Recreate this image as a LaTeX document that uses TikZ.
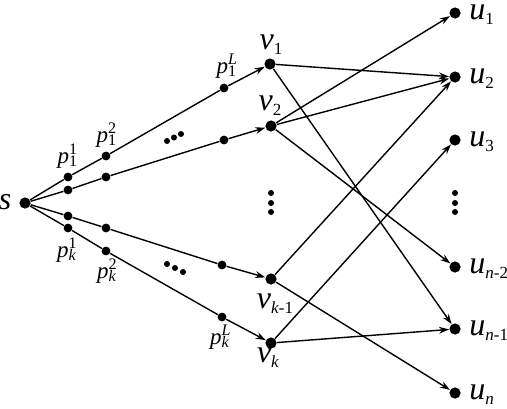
\documentclass[tikz,border=0pt]{standalone}
\usepackage{fontspec}
\setmainfont{Liberation Serif}
\newfontfamily\lblfont{Liberation Serif}
\usetikzlibrary{arrows.meta}
\tikzset{
  bigdot/.style={circle, fill, inner sep=0pt, minimum size=5.6pt},
  pdot/.style={circle, fill, inner sep=0pt, minimum size=4.4pt},
  tinydot/.style={circle, fill, inner sep=0pt, minimum size=3pt},
  edge/.style={line width=0.7pt},
  arc/.style={edge, -{Stealth[length=5pt, width=3.4pt]}},
  biglab/.style={font=\lblfont\fontsize{16}{18}\selectfont, inner sep=0pt},
  plab/.style={font=\lblfont\fontsize{11.5}{13}\selectfont, inner sep=0pt}
}
\newcommand{\nlab}[2]{\textit{#1}\raisebox{-2.6pt}{\fontsize{8.5}{9}\selectfont #2}}
\newcommand{\plab}[2]{\textit{p}\rlap{\textsuperscript{#1}}\textsubscript{#2}}
\begin{document}
\begin{tikzpicture}[x=0.5pt, y=-0.5pt]
  \useasboundingbox (0,0) rectangle (507,408);
  % source
  \node[bigdot] (s) at (25,203) {};
  \node[biglab] (slab) at (5,202) {\textit{s}};
  % middle layer
  \node[bigdot] (v1) at (270,64) {};
  \node[bigdot] (v2) at (271,126) {};
  \node[bigdot] (vk1) at (271,279) {};
  \node[bigdot] (vk) at (271,343) {};
  \node[biglab] (v1lab) at (271,45) {\nlab{v}{1}};
  \node[biglab] (v2lab) at (270,106) {\nlab{v}{2}};
  \node[biglab] (vk1lab) at (275,304) {\nlab{v}{\textit{k}-1}};
  \node[biglab] (vklab) at (268,358) {\nlab{v}{\textit{k}}};
  % path points
  \node[pdot] (p1-1) at (68,177) {};
  \node[pdot] (p1-2) at (106,156) {};
  \node[pdot] (p1-L) at (224,88) {};
  \node[pdot] (p2-1) at (68,190) {};
  \node[pdot] (p2-2) at (106,177) {};
  \node[pdot] (p2-L) at (224,140) {};
  \node[pdot] (pk1-1) at (68,216) {};
  \node[pdot] (pk1-2) at (106,228) {};
  \node[pdot] (pk1-L) at (222,265) {};
  \node[pdot] (pk-1) at (68,228) {};
  \node[pdot] (pk-2) at (106,251) {};
  \node[pdot] (pk-L) at (222,317) {};
  \node[plab] (l1-1) at (68,156) {\plab{1}{1}};
  \node[plab] (l1-2) at (107,135) {\plab{2}{1}};
  \node[plab] (l1-L) at (227,66) {\plab{\textit{L}}{1}};
  \node[plab] (lk-1) at (67,250) {\plab{1}{\textit{k}}};
  \node[plab] (lk-2) at (107,271) {\plab{2}{\textit{k}}};
  \node[plab] (lk-L) at (220,337) {\plab{\textit{L}}{\textit{k}}};
  % sinks
  \node[bigdot] (u1) at (455,13) {};
  \node[bigdot] (u2) at (455,77) {};
  \node[bigdot] (u3) at (455,140) {};
  \node[bigdot] (un2) at (455,267) {};
  \node[bigdot] (un1) at (455,329) {};
  \node[bigdot] (un) at (455,393) {};
  \foreach \u/\t in {u1/1, u2/2, u3/3, un2/\textit{n}-2, un1/\textit{n}-1, un/\textit{n}}
    \node[biglab, anchor=base west] (\u lab) at ([xshift=7pt, yshift=-3.2pt]\u.center) {\nlab{u}{\t}};
  % paths from s
  \draw[edge] (s) -- (p1-1) -- (p1-2) -- (p1-L);
  \draw[edge] (s) -- (p2-1) -- (p2-2) -- (p2-L);
  \draw[edge] (s) -- (pk1-1) -- (pk1-2) -- (pk1-L);
  \draw[edge] (s) -- (pk-1) -- (pk-2) -- (pk-L);
  \draw[arc] (p1-L) -- (v1);
  \draw[arc] (p2-L) -- (v2);
  \draw[arc] (pk1-L) -- (vk1);
  \draw[arc] (pk-L) -- (vk);
  % v to u
  \draw[arc] (v1) -- (u2);
  \draw[arc] (v1) -- (un1);
  \draw[arc] (v2) -- (u1);
  \draw[arc] (v2) -- (u2);
  \draw[arc] (v2) -- (un2);
  \draw[arc] (vk1) -- (u2);
  \draw[arc] (vk1) -- (un);
  \draw[arc] (vk) -- (u3);
  \draw[arc] (vk) -- (un1);
  % ellipses
  \node[tinydot] (ht1) at (167,141) {};
  \node[tinydot] (ht2) at (174,137.5) {};
  \node[tinydot] (ht3) at (181,134) {};
  \node[tinydot] (hb1) at (167,264) {};
  \node[tinydot] (hb2) at (175,268) {};
  \node[tinydot] (hb3) at (183,272) {};
  \foreach \y [count=\i] in {193,203,212} {
    \node[tinydot] (vm\i) at (271,\y) {};
    \node[tinydot] (vr\i) at (455,\y) {};
  }
\end{tikzpicture}
\end{document}
